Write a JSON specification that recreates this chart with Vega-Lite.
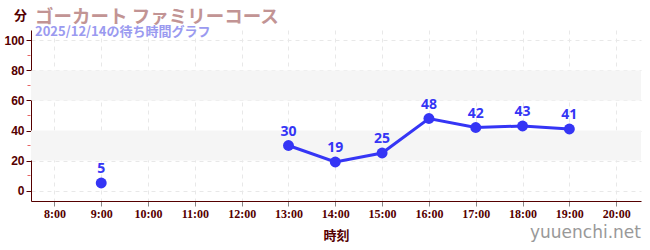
{
  "$schema": "https://vega.github.io/schema/vega-lite/v6.json",
  "autosize": {"type": "none"},
  "width": 610,
  "height": 171,
  "padding": {"left": 31, "top": 30, "right": 9, "bottom": 49},
  "background": "white",
  "title": {
    "text": "ゴーカート ファミリーコース",
    "subtitle": "2025/12/14の待ち時間グラフ",
    "anchor": "start",
    "frame": "group",
    "font": "Noto Sans CJK JP",
    "fontSize": 18.5,
    "fontWeight": "bold",
    "color": "#c29494",
    "subtitleFont": "Noto Sans CJK JP",
    "subtitleFontSize": 13,
    "subtitleFontWeight": "bold",
    "subtitleColor": "#9a9af0",
    "subtitlePadding": 0,
    "offset": -30,
    "dx": 4
  },
  "config": {
    "view": {"stroke": null},
    "axis": {
      "domainColor": "#550000",
      "labelColor": "#550000",
      "titleColor": "#550000",
      "grid": true,
      "gridColor": "#e8e8e8",
      "gridDash": [4, 4],
      "labelFont": "Liberation Sans Narrow",
      "labelFontWeight": "bold",
      "titleFont": "Noto Sans CJK JP"
    }
  },
  "datasets": {
    "waits": [
      {"hour": 9, "wait": 5},
      {"hour": 13, "wait": 30},
      {"hour": 14, "wait": 19},
      {"hour": 15, "wait": 25},
      {"hour": 16, "wait": 48},
      {"hour": 17, "wait": 42},
      {"hour": 18, "wait": 43},
      {"hour": 19, "wait": 41}
    ],
    "bands": [
      {"lo": 20, "hi": 40},
      {"lo": 60, "hi": 80}
    ],
    "minor": [
      {"v": 10}, {"v": 30}, {"v": 50}, {"v": 70}, {"v": 90}
    ],
    "marks": [
      {"hour": 20.53, "wait": -28, "text": "yuuenchi.net"}
    ]
  },
  "encoding": {
    "x": {
      "type": "quantitative",
      "scale": {"domain": [7.5, 20.53], "nice": false, "zero": false},
      "axis": {
        "values": [8, 9, 10, 11, 12, 13, 14, 15, 16, 17, 18, 19, 20],
        "labelExpr": "datum.value + ':00'",
        "labelFontSize": 12,
        "grid": true,
        "tickColor": "#888888",
        "title": "時刻",
        "titleFontSize": 13,
        "titleFontWeight": "bold",
        "titlePadding": 10
      }
    },
    "y": {
      "type": "quantitative",
      "scale": {"domain": [-7, 107], "nice": false, "zero": false},
      "axis": {
        "values": [0, 20, 40, 60, 80, 100],
        "labelOverlap": false,
        "labelFont": "Liberation Sans",
        "labelFontSize": 12,
        "labelPadding": 2,
        "grid": true,
        "tickColor": "#550000",
        "title": "分",
        "titleAngle": 0,
        "titleX": -11,
        "titleY": -15,
        "titleBaseline": "middle",
        "titleFontSize": 13,
        "titleFontWeight": "bold",
        "titleAlign": "center"
      }
    }
  },
  "layer": [
    {
      "data": {"name": "bands"},
      "mark": {"type": "rect", "color": "#f5f5f5"},
      "encoding": {
        "y": {"field": "lo", "type": "quantitative"},
        "y2": {"field": "hi"}
      }
    },
    {
      "data": {"name": "minor"},
      "mark": {"type": "tick", "orient": "horizontal", "color": "#dd2222", "size": 3, "thickness": 1, "xOffset": -2},
      "encoding": {
        "x": {"datum": 7.5, "type": "quantitative"},
        "y": {"field": "v", "type": "quantitative"}
      }
    },
    {
      "data": {"name": "waits"},
      "transform": [{"filter": "datum.hour >= 13"}],
      "mark": {"type": "line", "color": "#3535f5", "strokeWidth": 3},
      "encoding": {
        "x": {"field": "hour", "type": "quantitative"},
        "y": {"field": "wait", "type": "quantitative"}
      }
    },
    {
      "data": {"name": "waits"},
      "mark": {"type": "circle", "color": "#3535f5", "opacity": 1, "size": 120},
      "encoding": {
        "x": {"field": "hour", "type": "quantitative"},
        "y": {"field": "wait", "type": "quantitative"}
      }
    },
    {
      "data": {"name": "waits"},
      "mark": {"type": "text", "color": "#3535f5", "dy": -14, "fontSize": 14, "fontWeight": "bold", "font": "Noto Sans"},
      "encoding": {
        "x": {"field": "hour", "type": "quantitative"},
        "y": {"field": "wait", "type": "quantitative"},
        "text": {"field": "wait"}
      }
    },
    {
      "data": {"name": "marks"},
      "mark": {"type": "text", "color": "#999999", "align": "right", "fontSize": 17, "font": "DejaVu Sans", "baseline": "middle"},
      "encoding": {
        "x": {"field": "hour", "type": "quantitative"},
        "y": {"field": "wait", "type": "quantitative"},
        "text": {"field": "text"}
      }
    }
  ]
}
